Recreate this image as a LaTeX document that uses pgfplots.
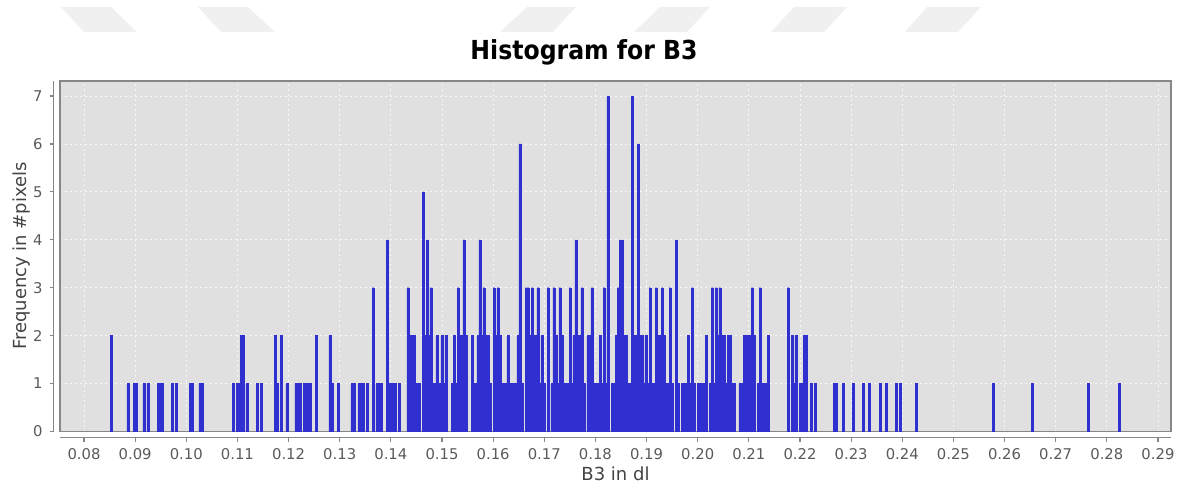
\documentclass[border=0pt]{standalone}
\usepackage{pgfplots}
\pgfplotsset{compat=1.18}
\usepackage{pgfplotstable}
\usepackage{fontspec}
\setmainfont{DejaVu Sans}
\IfFontExistsTF{DejaVu Sans Condensed}
  {\newfontfamily\titlefont{DejaVu Sans Condensed}\def\titlesize{13.1}}
  {\newfontfamily\titlefont{DejaVu Sans}\def\titlesize{11.8}}
\definecolor{bggray}{RGB}{224,224,224}
\definecolor{bordergray}{RGB}{135,135,135}
\definecolor{tickgray}{RGB}{90,90,90}
\definecolor{labelgray}{RGB}{68,68,68}
\definecolor{barblue}{RGB}{48,48,208}
\definecolor{wm}{RGB}{240,240,240}

\pgfplotstableread{
x y
0.08528 2
0.08860 1
0.08978 1
0.09017 1
0.09173 1
0.09251 1
0.09447 1
0.09486 1
0.09525 1
0.09721 1
0.09799 1
0.10073 1
0.10112 1
0.10268 1
0.10307 1
0.10914 1
0.10992 1
0.11031 1
0.11070 2
0.11109 2
0.11187 1
0.11383 1
0.11461 1
0.11735 2
0.11774 1
0.11852 2
0.11969 1
0.12145 1
0.12185 1
0.12224 1
0.12302 1
0.12341 1
0.12380 1
0.12419 1
0.12537 2
0.12810 2
0.12849 1
0.12967 1
0.13240 1
0.13280 1
0.13377 1
0.13416 1
0.13456 1
0.13534 1
0.13651 3
0.13729 1
0.13768 1
0.13808 1
0.13925 4
0.13964 1
0.14003 1
0.14042 1
0.14081 1
0.14160 1
0.14335 3
0.14374 2
0.14413 2
0.14452 2
0.14491 1
0.14551 1
0.14629 5
0.14668 2
0.14707 4
0.14746 2
0.14785 3
0.14824 1
0.14863 1
0.14902 2
0.14941 1
0.15000 2
0.15039 1
0.15078 2
0.15196 1
0.15235 2
0.15274 1
0.15313 3
0.15352 2
0.15391 2
0.15430 4
0.15469 2
0.15587 2
0.15626 1
0.15665 1
0.15704 2
0.15743 4
0.15782 2
0.15821 3
0.15860 2
0.15899 2
0.15938 1
0.16017 3
0.16056 2
0.16095 3
0.16134 2
0.16173 1
0.16212 1
0.16251 1
0.16290 2
0.16329 1
0.16368 1
0.16407 1
0.16446 1
0.16485 2
0.16524 6
0.16563 1
0.16643 3
0.16682 3
0.16721 2
0.16760 3
0.16799 2
0.16838 2
0.16877 3
0.16916 1
0.16955 2
0.16995 1
0.17073 3
0.17151 1
0.17190 3
0.17229 2
0.17268 1
0.17307 3
0.17346 2
0.17385 1
0.17424 1
0.17463 1
0.17503 3
0.17542 1
0.17581 2
0.17620 4
0.17659 2
0.17698 2
0.17737 3
0.17776 1
0.17854 2
0.17893 2
0.17932 3
0.17971 1
0.18012 1
0.18051 1
0.18090 2
0.18129 1
0.18168 3
0.18207 1
0.18246 7
0.18325 1
0.18364 1
0.18403 2
0.18442 3
0.18481 4
0.18520 4
0.18559 2
0.18598 2
0.18637 1
0.18676 1
0.18716 7
0.18755 2
0.18794 2
0.18833 6
0.18872 2
0.18911 2
0.18950 1
0.18989 2
0.19029 1
0.19068 3
0.19107 1
0.19146 1
0.19185 3
0.19224 2
0.19263 2
0.19302 3
0.19342 2
0.19381 1
0.19420 1
0.19459 3
0.19498 1
0.19576 4
0.19615 1
0.19694 1
0.19733 1
0.19772 1
0.19811 2
0.19850 1
0.19889 3
0.19928 1
0.20006 1
0.20045 1
0.20085 1
0.20124 1
0.20163 2
0.20241 1
0.20280 3
0.20319 1
0.20358 3
0.20397 2
0.20436 3
0.20475 2
0.20515 2
0.20554 1
0.20593 2
0.20632 2
0.20671 1
0.20710 1
0.20827 1
0.20867 1
0.20906 2
0.20945 2
0.20984 2
0.21023 2
0.21062 3
0.21101 2
0.21180 1
0.21219 3
0.21258 1
0.21297 1
0.21336 1
0.21375 2
0.21766 3
0.21844 2
0.21883 1
0.21922 2
0.22001 1
0.22040 1
0.22079 2
0.22118 2
0.22216 1
0.22294 1
0.22666 1
0.22705 1
0.22842 1
0.23037 1
0.23233 1
0.23350 1
0.23565 1
0.23682 1
0.23878 1
0.23956 1
0.24269 1
0.25775 1
0.26537 1
0.27632 1
0.28239 1
}\histdata

\def\xticklist{0.08,0.09,0.10,0.11,0.12,0.13,0.14,0.15,0.16,0.17,0.18,0.19,0.20,0.21,0.22,0.23,0.24,0.25,0.26,0.27,0.28,0.29}

\begin{document}
\begin{tikzpicture}[x=1pt,y=1pt]
\path[use as bounding box] (0,0) rectangle (594,246.5);
% faint background shapes at the top of the screenshot
\fill[wm] (30.5,243) -- (55.5,243) -- (68.5,230.5) -- (42,230.5) -- cycle;
\fill[wm] (99,243) -- (124,243) -- (137.5,230.5) -- (110.5,230.5) -- cycle;
\fill[wm] (263.5,243) -- (288,243) -- (276.5,230.5) -- (250,230.5) -- cycle;
\fill[wm] (330,243) -- (355,243) -- (343.5,230.5) -- (317,230.5) -- cycle;
\fill[wm] (397,243) -- (423.5,243) -- (412,230.5) -- (385.5,230.5) -- cycle;
\fill[wm] (463.5,243) -- (490.5,243) -- (479,230.5) -- (452.5,230.5) -- cycle;

% plot area with bars
\begin{axis}[
  at={(30pt,30.75pt)}, anchor=south west,
  scale only axis, width=555.5pt, height=175.25pt,
  xmin=0.075307, xmax=0.29255, ymin=0, ymax=7.313,
  xtick/.expanded=\xticklist, ytick={0,1,2,3,4,5,6,7},
  xticklabels={}, yticklabels={},
  major tick length=0pt,
  grid=major,
  major grid style={white, opacity=0.75, line width=0.4pt, dash pattern=on 1pt off 1.5pt},
  axis background/.style={fill=bggray},
  axis line style={bordergray, line width=0.6pt},
]
\addplot[ybar, bar width=0.00039, fill=barblue, draw=barblue, line width=0.2pt] table[x=x,y=y] {\histdata};
\end{axis}

% x axis (offset below plot area)
\begin{axis}[
  at={(30pt,27.75pt)}, anchor=south west,
  scale only axis, width=555.5pt, height=175.25pt,
  xmin=0.075307, xmax=0.29255, ymin=0, ymax=1,
  hide y axis, axis x line*=bottom,
  x axis line style={bordergray, line width=0.6pt},
  xtick/.expanded=\xticklist,
  xticklabels/.expanded=\xticklist,
  tick align=outside, major tick length=2pt,
  xtick style={bordergray, line width=0.6pt},
  xticklabel style={font=\fontsize{7.4}{8.5}\selectfont, text=tickgray},
]
\end{axis}

% y axis (offset left of plot area)
\begin{axis}[
  at={(26.75pt,30.75pt)}, anchor=south west,
  scale only axis, width=555.5pt, height=175.25pt,
  xmin=0, xmax=1, ymin=0, ymax=7.313,
  hide x axis, axis y line*=left,
  y axis line style={bordergray, line width=0.6pt},
  ytick={0,1,2,3,4,5,6,7},
  yticklabels={0,1,2,3,4,5,6,7},
  tick align=outside, major tick length=2pt,
  ytick style={bordergray, line width=0.6pt},
  yticklabel style={font=\fontsize{7.4}{8.5}\selectfont, text=tickgray},
]
\end{axis}

\node[rotate=90, font=\fontsize{9}{10.5}\selectfont, text=labelgray] at (11,118.5) {Frequency in \#pixels};
\node[font=\fontsize{9}{10.5}\selectfont, text=labelgray] at (307.75,9.5) {B3 in dl};
\node[font=\titlefont\bfseries\fontsize{\titlesize}{15}\selectfont] at (292,220.5) {Histogram for B3};
\end{tikzpicture}
\end{document}
